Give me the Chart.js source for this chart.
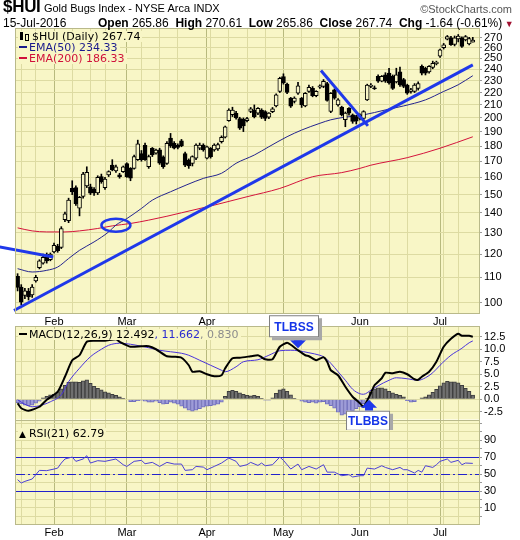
<!DOCTYPE html>
<html>
<head>
<meta charset="utf-8">
<title>$HUI Gold Bugs Index</title>
<script src="https://cdn.jsdelivr.net/npm/chart.js@4.4.1/dist/chart.umd.min.js"></script>
<style>
  body { margin: 0; width: 520px; height: 540px; background: #fff; position: relative; overflow: hidden; }
  canvas { position: absolute; left: 0; }
  .txt { position: absolute; white-space: nowrap; font-family: "Liberation Sans", Arial, sans-serif; font-size: 12px; line-height: 13px; color: #000; z-index: 5; }
  .leg { position: absolute; white-space: nowrap; font-family: "DejaVu Sans", Verdana, sans-serif; font-size: 11px; line-height: 11px; background: #f8f6c6; padding: 0 2px 0 1px; z-index: 5; }
  .dash { display: inline-block; width: 8px; height: 2px; vertical-align: 3px; margin-right: 2px; }
</style>
</head>
<body>
<canvas id="priceChart" width="520" height="326" style="top:0;z-index:1"></canvas>
<canvas id="rsiChart" width="520" height="130" style="top:410px;z-index:2"></canvas>
<canvas id="macdChart" width="520" height="120" style="top:310px;z-index:3"></canvas>

<div class="txt" style="left:3px;top:0"><b style="font-size:17px;letter-spacing:-0.3px">$HUI</b> <span style="font-size:11px">Gold Bugs Index - NYSE Arca</span> <span style="font-size:11px">INDX</span></div>
<div class="txt" style="right:8px;top:3px;color:#555;font-size:11px">&copy;StockCharts.com</div>
<div class="txt" style="left:3px;top:17px">15-Jul-2016</div>
<div class="txt" style="left:98px;top:17px"><b>Open</b> 265.86 &nbsp;<b>High</b> 270.61 &nbsp;<b>Low</b> 265.86 &nbsp;<b>Close</b> 267.74 &nbsp;<b>Chg</b> -1.64 (-0.61%)<span style="color:#a01030;font-size:9px"> &#9660;</span></div>

<div class="leg" id="legPrice" style="left:18px;top:31px"></div>
<div class="leg" id="legEma50" style="left:18px;top:42px;color:#1a1a8c"></div>
<div class="leg" id="legEma200" style="left:18px;top:53px;color:#d0103a"></div>
<div class="leg" id="legMacd" style="left:18px;top:329px"></div>
<div class="leg" id="legRsi" style="left:18px;top:428px"></div>

<script>
// trading days 15-Jan-2016 .. 15-Jul-2016, x = day index
const months = ['Feb', 'Mar', 'Apr', 'May', 'Jun', 'Jul'];
const monthDays = [10, 30, 52, 73, 94, 116];
const weekDays = [1, 5, 15, 20, 24, 34, 39, 44, 53, 58, 63, 68, 78, 83, 88, 97, 102, 107, 117, 121];

const open = [110.4, 106, 102.8, 104.3, 103, 108.5, 114, 116, 119, 117.5,
  121, 123.5, 123, 136.5, 136, 153.5, 154, 142.5, 149, 155,
  154.5, 153, 151, 160.5, 154, 161.5, 167.5, 164, 161.5, 163.5,
  168.5, 165.5, 165.5, 171, 175, 180.5, 166.5, 178.5, 175.3, 177.4,
  172.9, 168.6, 185.4, 181.8, 180.5, 183.5, 175, 170.8, 168.6, 172,
  178.5, 180.6, 172, 178.5, 177.4, 178, 183, 186, 198, 202.5,
  203.5, 199.5, 199, 198, 205, 206, 203.6, 206, 204.8, 200.6,
  204.8, 209.2, 221, 233.5, 227, 215.5, 212.8, 219.5, 215.4, 209.2,
  221, 223.5, 217.5, 224.5, 225, 227.6, 205, 222.3, 210, 208.3,
  198.6, 207.4, 202.3, 201, 199.7, 199.7, 214, 225, 224, 233.7,
  229.5, 235.2, 236.6, 233.7, 229, 237.7, 230.9, 226.2, 220.9, 220.9,
  223.5, 242.6, 241, 237.7, 241.8, 245.2, 252.2, 260.2, 268.8, 270,
  263.5, 269, 270, 268, 264, 265.86];
const high = [111.5, 107, 105.5, 105.5, 107, 110.8, 117.5, 120, 120.5, 120.5,
  125, 124.5, 133, 140.5, 148, 158, 155, 149, 163, 166.5,
  156, 154, 161, 162, 160, 164, 171, 167.5, 162.5, 167,
  169, 166, 174, 184, 177, 182, 174, 179, 178, 178.5,
  173.5, 183, 188.7, 183, 181.5, 184.5, 176, 171.5, 173.5, 181.5,
  182, 181.5, 180, 179, 181.5, 182, 187, 194, 207, 208.2,
  205, 200.5, 200, 200.5, 208, 210, 208, 207, 205.5, 204,
  208, 219, 233, 236, 228, 216, 216.5, 228.5, 216, 220,
  226.3, 225, 221.5, 226.5, 231, 228.5, 220, 223, 215, 209,
  204.5, 208, 203, 202, 203, 205.5, 227, 227.5, 225.5, 235,
  234.5, 237, 241, 235, 241, 242, 232, 227, 223.5, 227.5,
  229, 244, 242, 243.5, 247.5, 247.5, 259, 264.5, 272.5, 271.5,
  272, 273.5, 271, 272.5, 270.5, 270.61];
const low = [104.5, 99.2, 101.5, 101, 102, 108, 113.5, 115.5, 116, 117,
  120.5, 120.8, 122.5, 135.5, 135, 150, 144, 138.5, 148, 154,
  150, 149.5, 150, 156.5, 153, 160.5, 164, 163, 159.5, 163,
  160, 158, 165, 170.5, 170, 170.5, 165.5, 173, 174.5, 168,
  165.5, 168, 179, 178, 178, 179.5, 166.5, 165.5, 167, 171,
  177.5, 176.5, 171.5, 172, 176.5, 177, 182, 185.5, 197.5, 201,
  199, 191.5, 190, 197, 204, 200, 202.5, 199.5, 198, 199.5,
  204, 208.5, 220, 227, 219, 208, 211.5, 218.5, 208, 208.5,
  220, 216.5, 216.5, 223.5, 224, 213, 204, 214.5, 209, 201.5,
  193.5, 202, 196, 195.5, 198.5, 198.5, 213.5, 224, 222.5, 228.5,
  229, 228.5, 227, 222.5, 228, 225, 224, 218.5, 219.5, 220,
  222, 235, 235, 236.5, 240.5, 244, 251, 259, 268, 262.5,
  262, 266, 260.5, 267, 263, 265.86];
const close = [105.9, 100.2, 104.5, 102.2, 106, 110, 117, 118.5, 117, 120,
  124, 121.5, 132, 139.5, 147, 151.5, 145, 148.5, 162, 163,
  150.8, 151, 160, 157.5, 159, 163.5, 164.5, 166.5, 160.5, 166.5,
  160.5, 159.5, 173, 181.5, 171, 171, 173, 174, 177.3, 168.7,
  166.5, 181.8, 180, 178.5, 179, 180, 167.5, 167, 173, 180.6,
  180.6, 177.4, 179.5, 173, 180.6, 181, 186, 193.5, 206, 206,
  200, 192.5, 194, 199.5, 207, 201, 207.4, 200.6, 199.7, 203.6,
  207, 218, 232, 228, 220, 209, 215.4, 225.5, 210, 219.4,
  224.4, 217.5, 220.9, 225.5, 229.5, 213.6, 219.4, 215.4, 214, 202.3,
  203.6, 203.6, 197.3, 197.5, 202.3, 204.8, 226.3, 226.3, 223.2, 229.5,
  233.7, 229.5, 228, 223.5, 235, 226.3, 225, 219.4, 222.3, 226.2,
  227.6, 236.6, 236.6, 242.6, 245.4, 246.5, 258.3, 263.2, 271.4, 263.2,
  270, 272, 261.5, 271.4, 269.38, 267.74];

// [day, value]
const ema50 = [[0, 113.6], [4, 112.2], [8, 112.9], [11, 114.3], [14, 118.0], [17, 121.7], [21, 125.6],
  [25, 130.4], [27, 133.8], [30, 137.1], [34, 142.4], [37, 146.9], [42, 151.6], [51, 159.4],
  [56, 162.5], [60, 168.7], [65, 174], [69, 179.5], [74, 186.4], [78, 191.1], [83, 196],
  [86, 198.6], [90, 200.6], [95, 202.3], [101, 206.1], [106, 209.2], [112, 214], [117, 220.9],
  [121, 226.5], [125, 234.33]];
const ema200 = [[0, 132.4], [4, 130.9], [8, 130.4], [13, 130.4], [17, 130.9], [22, 132.1], [26, 133.4],
  [31, 134.6], [36, 136.3], [41, 138.3], [45, 140.1], [54, 144.2], [63, 148.8], [72, 153.5],
  [81, 160.4], [89, 162.9], [94, 165.5], [97, 167.5], [107, 172.3], [116, 178.5], [125, 186.33]];

const trendLines = [
  [[-5, 123.3], [9.8, 118.7]],
  [[-1, 97.1], [125, 244.1]],
  [[83.3, 238.9], [96.2, 194.1]]
];
const goldenCross = [27, 133.7];

const macd = [[0, -0.8], [1, -1.8], [3, -2.3], [6, -1.5], [8, -0.1], [11, 1.5], [13, 4.5], [15, 7.8],
  [17, 8.8], [19, 11.5], [21, 11.7], [24, 11.7], [27, 12.0], [28, 11.5], [31, 10.5], [34, 10.6],
  [36, 10.6], [38, 10.0], [41, 8.6], [43, 8.5], [45, 8.3], [47, 6.8], [48, 5.5], [50, 5.6],
  [52, 5.0], [54, 4.6], [56, 4.8], [57, 6.2], [59, 8.2], [61, 8.3], [64, 8.6], [66, 8.8],
  [67, 8.4], [68, 8.0], [70, 8.0], [72, 10.5], [74, 11.3], [75, 10.9], [77, 9.8], [79, 8.8],
  [80, 8.6], [82, 7.8], [84, 8.4], [85, 7.5], [86, 5.8], [88, 4.8], [90, 2.5], [92, 0.5],
  [94, -0.8], [95, -1.5], [97, 1.2], [98, 2.8], [100, 4.2], [101, 5.3], [103, 5.2], [105, 5.5],
  [107, 5.0], [109, 4.0], [110, 3.9], [111, 4.5], [113, 5.5], [115, 7.5], [117, 10.5],
  [119, 12.1], [121, 13.1], [122, 12.7], [124, 12.7], [125, 12.492]];
const signal = [[0, -0.1], [2, -1.0], [4, -1.5], [6, -1.3], [9, -0.5], [12, 0.9], [14, 3.5], [17, 6.2],
  [20, 8.5], [23, 10.0], [25, 10.8], [28, 11.2], [31, 11.0], [34, 10.6], [36, 10.3], [39, 9.8],
  [42, 9.5], [45, 9.2], [47, 8.8], [50, 7.8], [53, 6.8], [56, 5.8], [57, 5.5], [60, 6.5],
  [62, 7.5], [66, 7.9], [69, 8.8], [72, 9.7], [75, 9.8], [77, 9.7], [80, 9.3], [83, 8.8],
  [84, 8.5], [86, 7.2], [88, 5.5], [90, 3.8], [92, 2.0], [94, 1.1], [95, 1.0], [97, 1.8],
  [99, 2.7], [102, 3.8], [104, 4.3], [107, 4.1], [110, 3.8], [112, 4.3], [114, 5.3],
  [116, 6.8], [119, 8.8], [122, 10.2], [124, 11.3], [125, 11.662]];
const hist = [-0.7, -0.9, -1.2, -1.3, -1.2, -0.8, -0.4, 0.3, 0.6, 0.9,
  1.0, 1.5, 2.1, 2.8, 3.4, 3.5, 3.5, 3.4, 3.7, 3.9,
  3.2, 2.6, 2.2, 1.9, 1.5, 1.3, 1.0, 0.8, 0.5, 0.2,
  -0.1, -0.5, -0.5, -0.3, -0.2, -0.4, -0.6, -0.6, -0.4, -0.7,
  -1.0, -0.9, -0.6, -0.8, -1.0, -1.4, -1.8, -2.2, -2.4, -2.2,
  -1.9, -1.6, -1.4, -1.3, -1.2, -1.0, -0.6, 0.6, 1.6, 1.8,
  1.6, 1.3, 1.0, 0.8, 0.7, 0.8, 0.6, 0.2, -0.2, -0.2,
  0.3, 1.2, 1.9, 2.1, 1.6, 0.9, 0.2, 0.1, -0.4, -0.6,
  -0.7, -0.6, -0.8, -0.6, -0.5, -1.0, -1.3, -1.8, -2.6, -3.2,
  -3.0, -2.6, -2.3, -1.9, -1.5, -0.9, 0.2, 1.4, 2.1, 2.3,
  2.3, 2.1, 1.6, 1.3, 1.0, 0.8, 0.5, -0.3, -0.6, -0.5,
  0.1, 0.3, 0.5, 0.9, 1.4, 2.0, 2.7, 3.3, 3.6, 3.5,
  3.5, 3.3, 2.8, 2.2, 1.6, 0.83];
const rsi = [[0, 43.5], [1, 39.6], [2, 41.5], [4, 44.3], [5, 49.4], [6, 54.5], [8, 54.2], [10, 56.1],
  [11, 57.2], [12, 63.2], [13, 68], [15, 70.3], [16, 65.2], [18, 68], [19, 71.9], [20, 63.2],
  [22, 66], [24, 65.2], [27, 68], [29, 61.2], [30, 59.2], [32, 65.2], [34, 66.4], [35, 62.4],
  [37, 64], [39, 59.2], [41, 64], [43, 62], [45, 62], [46, 54.5], [48, 55.3], [49, 59.2],
  [51, 58.4], [52, 55.3], [54, 59.2], [56, 63.2], [58, 69.1], [60, 65.2], [61, 59.2], [63, 61.2],
  [64, 64], [66, 60.4], [67, 63.2], [68, 60], [70, 61.2], [72, 70.3], [73, 66.4], [75, 56.1],
  [77, 62], [78, 55.3], [80, 59.2], [82, 56.1], [84, 61.2], [85, 52.4], [87, 52.4], [89, 48.2],
  [91, 49.4], [92, 46.7], [94, 48.2], [95, 48.2], [96, 57.2], [98, 56.1], [100, 60], [101, 58],
  [103, 55.3], [105, 58], [106, 55.3], [107, 55.3], [109, 51.4], [110, 54.5], [111, 52.4],
  [112, 60], [114, 58], [115, 61.2], [116, 65.2], [118, 68], [119, 64], [121, 66.4], [122, 61.2],
  [123, 63.2], [125, 62.79]];

const priceTicks = [100, 110, 120, 130, 140, 150, 160, 170, 180, 190, 200, 210, 220, 230, 240, 250, 260, 270];
const macdTicks = [-2.5, 0, 2.5, 5, 7.5, 10, 12.5];
const rsiTicks = [0, 10, 20, 30, 40, 50, 60, 70, 80, 90, 100, 110];
const rsiLabels = [10, 30, 50, 70, 90];
const rsiLevels = [70, 50, 30];
const callouts = [
  { text: 'TLBSS', day: 77, value: 10.2, dir: 'down' },
  { text: 'TLBBS', day: 96.5, value: -0.1, dir: 'up' }
];

const BG = '#f8f6c6';
const GRID = '#dddba2';
const MONTH_GRID = '#b8ba7e';
const FRAME = '#b9b98a';
const TREND = '#1f38ea';
const X_MIN = -0.44, X_MAX = 126.7;
const AXIS_FONT = { family: '"Liberation Sans", Arial, sans-serif', size: 11 };
const gridDays = weekDays.concat(monthDays).sort((a, b) => a - b);
const days = close.map((c, i) => i);
const pts = arr => arr.map(p => ({ x: p[0], y: p[1] }));

const panelFrame = {
  id: 'panelFrame',
  beforeDraw(chart) {
    const { ctx, chartArea: a } = chart;
    ctx.save();
    ctx.fillStyle = BG;
    ctx.fillRect(a.left, a.top, a.right - a.left, a.bottom - a.top);
    ctx.restore();
  },
  afterDraw(chart) {
    const { ctx, chartArea: a } = chart;
    ctx.save();
    ctx.strokeStyle = FRAME;
    ctx.lineWidth = 1;
    ctx.strokeRect(Math.round(a.left) - 0.5, Math.round(a.top) - 0.5, Math.round(a.right - a.left) + 1, Math.round(a.bottom - a.top) + 1);
    ctx.restore();
  }
};

function xAxis(height) {
  return {
    type: 'linear', bounds: 'data', min: X_MIN, max: X_MAX, offset: false,
    afterBuildTicks: s => { s.ticks = gridDays.map(v => ({ value: v })); },
    afterFit: s => { s.height = height; },
    grid: { offset: false, drawTicks: false, color: c => (c.tick && monthDays.includes(c.tick.value)) ? MONTH_GRID : GRID },
    border: { display: false },
    ticks: {
      display: height > 0, autoSkip: false, maxRotation: 0, padding: 2, color: '#000', font: AXIS_FONT,
      callback: v => { const k = monthDays.indexOf(v); return k < 0 ? '' : months[k]; }
    }
  };
}

function yAxis(type, min, max, tickValues, label) {
  return {
    type: type, position: 'right', bounds: 'data', beginAtZero: false, min: min, max: max,
    afterBuildTicks: s => { s.ticks = tickValues.map(v => ({ value: v })); },
    afterFit: s => { s.width = 41; },
    grid: { color: GRID, drawTicks: true, tickLength: 3, tickColor: '#9a9a9a' },
    border: { display: false },
    ticks: { autoSkip: false, padding: 2, color: '#000', font: AXIS_FONT, callback: label }
  };
}

const baseOptions = {
  responsive: false, animation: false, devicePixelRatio: 1, events: [],
  plugins: { legend: { display: false }, tooltip: { enabled: false } }
};

// price panel
const priceExtras = {
  id: 'priceExtras',
  afterDatasetsDraw(chart) {
    const { ctx, scales } = chart;
    const x = scales.x.getPixelForValue(goldenCross[0]);
    const y = scales.y.getPixelForValue(goldenCross[1]);
    ctx.save();
    ctx.beginPath();
    ctx.ellipse(x, y, 14.5, 6.5, 0, 0, Math.PI * 2);
    ctx.strokeStyle = TREND;
    ctx.lineWidth = 2.5;
    ctx.stroke();
    ctx.restore();
  }
};

const priceDatasets = [
  {
    type: 'bar', order: 2, grouped: false, barThickness: 4, borderWidth: 1, borderColor: '#000', borderSkipped: false,
    backgroundColor: c => close[c.dataIndex] >= open[c.dataIndex] ? BG : '#000',
    data: days.map(i => ({ x: i, y: [Math.min(open[i], close[i]), Math.max(open[i], close[i])] }))
  },
  {
    type: 'bar', order: 3, grouped: false, barThickness: 1, borderWidth: 0, backgroundColor: '#000',
    data: days.map(i => ({ x: i, y: [low[i], high[i]] }))
  },
  { type: 'line', order: 4, data: pts(ema50), borderColor: '#24248e', borderWidth: 1, pointRadius: 0, cubicInterpolationMode: 'monotone' },
  { type: 'line', order: 4, data: pts(ema200), borderColor: '#d4143c', borderWidth: 1, pointRadius: 0, cubicInterpolationMode: 'monotone' }
];
trendLines.forEach(t => priceDatasets.push({
  type: 'line', order: 0, data: pts(t), borderColor: TREND, borderWidth: 3, pointRadius: 0, clip: false
}));

new Chart(document.getElementById('priceChart'), {
  type: 'bar',
  data: { datasets: priceDatasets },
  options: Object.assign({}, baseOptions, {
    layout: { padding: { left: 16, top: 29, right: 0, bottom: 0 } },
    scales: {
      x: xAxis(13),
      y: yAxis('logarithmic', 96.2, 279.2, priceTicks, v => String(v))
    }
  }),
  plugins: [panelFrame, priceExtras]
});

// MACD panel
const macdCallouts = {
  id: 'macdCallouts',
  afterDraw(chart) {
    const { ctx, scales } = chart;
    callouts.forEach(c => {
      const x = scales.x.getPixelForValue(c.day);
      const y = scales.y.getPixelForValue(c.value);
      const s = c.dir === 'down' ? -1 : 1;
      ctx.save();
      ctx.fillStyle = TREND;
      ctx.beginPath();
      ctx.moveTo(x, y);
      ctx.lineTo(x - 8, y + s * 8);
      ctx.lineTo(x - 4, y + s * 8);
      ctx.lineTo(x - 4, y + s * 11);
      ctx.lineTo(x + 4, y + s * 11);
      ctx.lineTo(x + 4, y + s * 8);
      ctx.lineTo(x + 8, y + s * 8);
      ctx.closePath();
      ctx.fill();
      const w = c.dir === 'down' ? 50 : 44, h = c.dir === 'down' ? 22 : 20;
      const bx = c.dir === 'down' ? x - 29 : x - 23;
      const by = c.dir === 'down' ? y - 11 - h : y + 11;
      ctx.fillStyle = '#a8a8a8';
      ctx.fillRect(bx + 3, by + 3, w, h);
      ctx.fillStyle = '#fff';
      ctx.fillRect(bx, by, w, h);
      ctx.strokeStyle = '#808080';
      ctx.lineWidth = 1;
      ctx.strokeRect(bx + 0.5, by + 0.5, w - 1, h - 1);
      ctx.fillStyle = '#1535e8';
      ctx.font = 'bold 12px "Liberation Sans", Arial, sans-serif';
      ctx.textAlign = 'center';
      ctx.textBaseline = 'middle';
      ctx.fillText(c.text, bx + w / 2, by + h / 2 + 1);
      ctx.restore();
    });
  }
};

new Chart(document.getElementById('macdChart'), {
  type: 'bar',
  data: {
    datasets: [
      { type: 'line', order: 0, data: pts(macd), borderColor: '#000', borderWidth: 2, pointRadius: 0, tension: 0.2 },
      { type: 'line', order: 1, data: pts(signal), borderColor: '#4a34dc', borderWidth: 1, pointRadius: 0, cubicInterpolationMode: 'monotone' },
      {
        type: 'bar', order: 2, barPercentage: 1, categoryPercentage: 1, borderWidth: 1,
        backgroundColor: c => hist[c.dataIndex] >= 0 ? '#707070' : '#9e9cd8',
        borderColor: c => hist[c.dataIndex] >= 0 ? '#3e3e3e' : '#7270bc',
        data: days.map(i => ({ x: i, y: hist[i] }))
      }
    ]
  },
  options: Object.assign({}, baseOptions, {
    layout: { padding: { left: 16, top: 17, right: 0, bottom: 10.5 } },
    scales: {
      x: xAxis(0),
      y: yAxis('linear', -4.05, 14.45, macdTicks, v => v.toFixed(1))
    }
  }),
  plugins: [panelFrame, macdCallouts]
});

// RSI panel
const rsiGuides = {
  id: 'rsiGuides',
  beforeDatasetsDraw(chart) {
    const { ctx, chartArea: a, scales } = chart;
    ctx.save();
    ctx.strokeStyle = '#2222cc';
    ctx.lineWidth = 1.2;
    rsiLevels.forEach(v => {
      const y = Math.round(scales.y.getPixelForValue(v)) + 0.5;
      ctx.setLineDash(v === 50 ? [9, 3, 2, 3] : []);
      ctx.beginPath();
      ctx.moveTo(a.left, y);
      ctx.lineTo(a.right, y);
      ctx.stroke();
    });
    ctx.restore();
  }
};

new Chart(document.getElementById('rsiChart'), {
  type: 'line',
  data: {
    datasets: [
      { data: pts(rsi), borderColor: '#4b40d6', borderWidth: 1, pointRadius: 0, tension: 0 }
    ]
  },
  options: Object.assign({}, baseOptions, {
    layout: { padding: { left: 16, top: 11, right: 0, bottom: 0 } },
    scales: {
      x: xAxis(16),
      y: yAxis('linear', -9, 113, rsiTicks, v => rsiLabels.includes(v) ? String(v) : '')
    }
  }),
  plugins: [panelFrame, rsiGuides]
});

// legends
const ico = '<span style="display:inline-block;width:10px;height:9px;position:relative;vertical-align:-1px;margin-right:3px">' +
  '<i style="position:absolute;left:1px;top:0;width:3px;height:8px;background:#000"></i>' +
  '<i style="position:absolute;left:6px;top:2px;width:2px;height:5px;border:1px solid #000"></i></span>';
document.getElementById('legPrice').innerHTML = ico + '$HUI (Daily) ' + close[close.length - 1].toFixed(2);
document.getElementById('legEma50').innerHTML = '<span class="dash" style="background:#1a1a8c"></span>EMA(50) ' + ema50[ema50.length - 1][1].toFixed(2);
document.getElementById('legEma200').innerHTML = '<span class="dash" style="background:#d0103a"></span>EMA(200) ' + ema200[ema200.length - 1][1].toFixed(2);
document.getElementById('legMacd').innerHTML = '<span class="dash" style="background:#000"></span>MACD(12,26,9) ' +
  macd[macd.length - 1][1].toFixed(3) + '<span style="color:#2a2ad0">, ' + signal[signal.length - 1][1].toFixed(3) +
  '</span><span style="color:#8c8c8c">, ' + hist[hist.length - 1].toFixed(3) + '</span>';
document.getElementById('legRsi').innerHTML = '<span style="font-size:9px;margin-right:3px">&#9650;</span>RSI(21) ' + rsi[rsi.length - 1][1].toFixed(2);
</script>
</body>
</html>
